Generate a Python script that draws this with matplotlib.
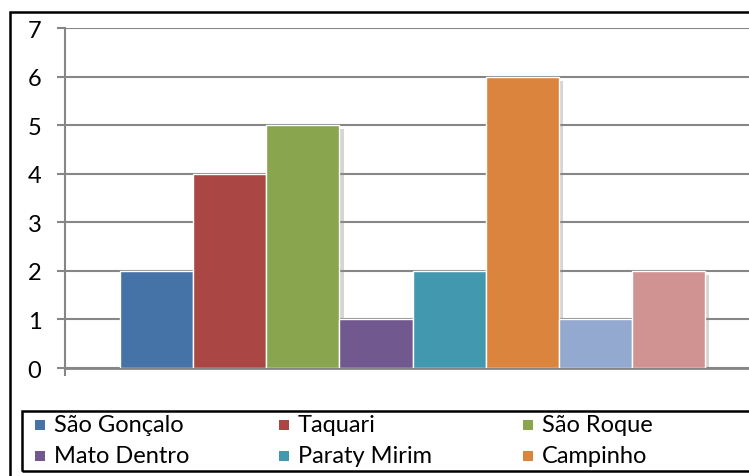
import matplotlib
matplotlib.use("Agg")
from matplotlib import pyplot as plt
from matplotlib import patheffects
from matplotlib.patches import Rectangle

# dados
localidades = ["São Gonçalo", "Taquari", "São Roque", "Mato Dentro",
               "Paraty Mirim", "Campinho", "", ""]
valores = [2, 4, 5, 1, 2, 6, 1, 2]
cores = ["#4572A7", "#AA4643", "#89A54E", "#71588F",
         "#4198AF", "#DB843D", "#93A9CF", "#D19392"]
y_ticks = [0, 1, 2, 3, 4, 5, 6, 7]

plt.rcParams['font.family'] = ['Lato', 'DejaVu Sans']
W, H = 749, 477
fig = plt.figure(figsize=(W / 100, H / 100), dpi=100)

# eixo ultrapassa a borda direita (imagem original recortada)
ax = fig.add_axes([65 / W, 1 - 369 / H, 695 / W, 340 / H])

sombra = [patheffects.SimplePatchShadow(offset=(3, -3), shadow_rgbFace='#888888', alpha=0.35),
          patheffects.Normal()]
for i, (v, c) in enumerate(zip(valores, cores)):
    ax.bar(i, v, width=1, align='edge', color=c, edgecolor='white',
           linewidth=1, zorder=3, path_effects=sombra)

margem = 55 / 73
ax.set_xlim(-margem, len(valores) + margem)
ax.set_ylim(0, 7)
ax.set_yticks(y_ticks)
ax.set_xticks([-margem])
ax.set_xticklabels([])

ax.grid(True, axis='y', color='#868686', linewidth=1.5, zorder=0)
ax.set_axisbelow(True)
for s in ['top', 'right']:
    ax.spines[s].set_visible(False)
ax.spines['left'].set_color('#868686')
ax.spines['left'].set_linewidth(1.5)
ax.spines['bottom'].set_color('#868686')
ax.spines['bottom'].set_linewidth(2)
ax.tick_params(axis='y', direction='out', length=6, width=1.5, color='#868686',
               labelsize=17, pad=11)
ax.tick_params(axis='x', direction='out', length=6, width=1.5, color='#868686')

# moldura externa
fig.patches.append(Rectangle((10 / W, -0.1), 1.2, 1 - 13 / H + 0.1,
                             transform=fig.transFigure, fill=False,
                             edgecolor='black', linewidth=1.8))
# caixa da legenda
fig.patches.append(Rectangle((22 / W, 1 - 472 / H), 1.2, 60 / H,
                             transform=fig.transFigure, fill=False,
                             edgecolor='black', linewidth=1.8))

# legenda (só as 6 entradas visíveis)
for i in range(6):
    col, lin = i % 3, i // 3
    x = 35 + col * 244
    y = 426 + lin * 31
    fig.patches.append(Rectangle((x / W, 1 - (y + 5) / H), 10 / W, 10 / H,
                                 transform=fig.transFigure, facecolor=cores[i],
                                 edgecolor='none'))
    fig.text((x + 19) / W, 1 - y / H, localidades[i], fontsize=17,
             va='center', ha='left')

fig.savefig("out.png", dpi=100)
